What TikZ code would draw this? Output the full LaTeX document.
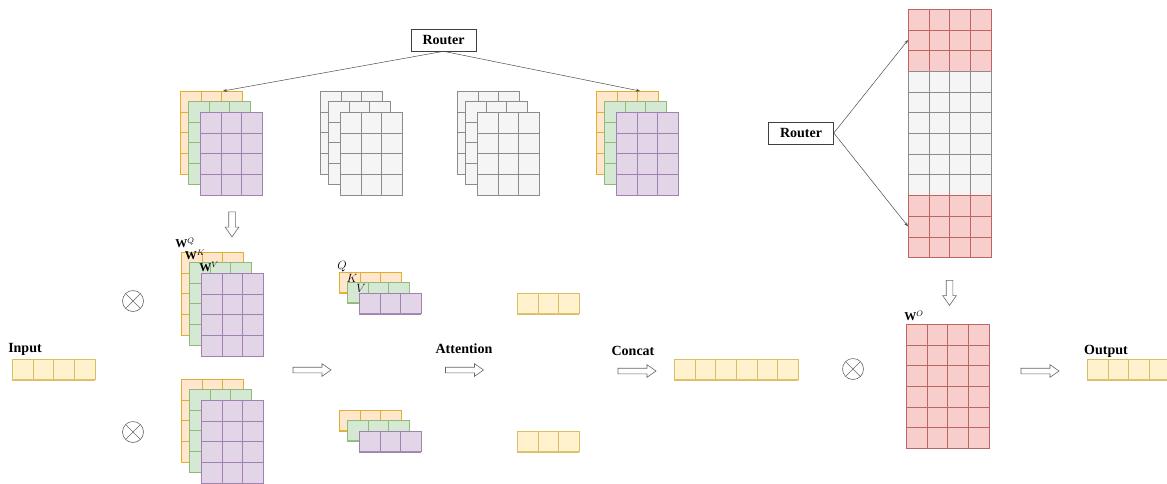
\documentclass[tikz,border=0pt]{standalone}
\usepackage{fontspec}
\setmainfont{Liberation Serif}
\usetikzlibrary{shapes.arrows,arrows.meta}

\definecolor{qfill}{HTML}{FFE6CC}\definecolor{qline}{HTML}{D79B00}
\definecolor{kfill}{HTML}{D5E8D4}\definecolor{kline}{HTML}{82B366}
\definecolor{vfill}{HTML}{E1D5E7}\definecolor{vline}{HTML}{9673A6}
\definecolor{gfill}{HTML}{F5F5F5}\definecolor{gline}{HTML}{666666}
\definecolor{rfill}{HTML}{F8CECC}\definecolor{rline}{HTML}{B85450}
\definecolor{yfill}{HTML}{FFF2CC}\definecolor{yline}{HTML}{D6B656}

\def\cw{20.7pt}

% one block of cells, top left corner at (#3,#4)
\newcommand{\cellmat}[6]{%
  \node[mat, #2, minimum width=#5*\cw, minimum height=#6*\cw] (#1) at (#3,#4) {};
  \foreach \c in {1,...,#5}
    \draw[#2] ([xshift=\c*\cw]#1.north west) -- ([xshift=\c*\cw]#1.south west);
  \foreach \r in {1,...,#6}
    \draw[#2] ([yshift=-\r*\cw]#1.north west) -- ([yshift=-\r*\cw]#1.north east);
}
% three blocks laid over each other
\newcommand{\wstack}[7]{%
  \cellmat{#1a}{#5}{#2}{#3}{3}{#4}
  \cellmat{#1b}{#6}{#2+8}{#3+10}{3}{#4}
  \cellmat{#1c}{#7}{#2+20}{#3+21}{3}{#4}
}

\begin{document}
\begin{tikzpicture}[x=1pt,y=-1pt,
			mat/.style={anchor=north west, inner sep=0pt, outer sep=0pt, line width=0.55pt},
			qm/.style={fill=qfill, draw=qline!80},
			km/.style={fill=kfill, draw=kline!90},
			vm/.style={fill=vfill, draw=vline!90},
			gm/.style={fill=gfill, draw=gline!75},
			rm/.style={fill=rfill, draw=rline!90},
			ym/.style={fill=yfill, draw=yline!90},
			lbl/.style={font=\fontsize{14}{16}\selectfont\bfseries, inner sep=0pt},
			mlbl/.style={font=\fontsize{12}{14}\selectfont, inner sep=0pt},
			router/.style={draw=black!75, fill=white, line width=0.6pt, minimum width=65pt, minimum height=22pt, inner sep=0pt, font=\fontsize{14}{16}\selectfont\bfseries},
			pick/.style={draw=black!70, line width=0.5pt, -{Stealth[length=4pt,width=3pt]}},
			hollow/.style={single arrow, draw=black!60, fill=white, line width=0.6pt, inner sep=0pt, text height=2.5pt, text depth=2.5pt, single arrow head extend=3.5pt, single arrow tip angle=70, minimum height=38pt},
			hollowdown/.style={hollow, text height=3pt, text depth=3pt, minimum height=25pt, rotate=-90},
			otimes/.style={circle, draw=black!60, line width=0.6pt, minimum size=21pt, inner sep=0pt,
				path picture={\draw[black!60, line width=0.6pt] (path picture bounding box.north west) -- (path picture bounding box.south east)
				(path picture bounding box.south west) -- (path picture bounding box.north east);}}
			]
	\useasboundingbox (0,0) rectangle (1167,483);

	% experts on top
	\wstack{ea}{180}{91}{4}{qm}{km}{vm}
	\wstack{eb}{320}{91}{4}{gm}{gm}{gm}
	\wstack{ec}{457}{91}{4}{gm}{gm}{gm}
	\wstack{ed}{596}{91}{4}{qm}{km}{vm}
	\node[router] (router1) at (443.5,40) {Router};
	\draw[pick] (router1.south) -- ([xshift=43pt]eaa.north west);
	\draw[pick] (router1.south) -- ([xshift=44pt]eda.north west);
	\node[hollowdown] (down1) at (232,222) {};

	% input and projections
	\node[lbl] (inlbl) at (25,349) {Input};
	\cellmat{input}{ym}{12}{359}{4}{1}
	\node[otimes] (mul1) at (133,301) {};
	\node[otimes] (mul2) at (133,432) {};
	\wstack{wt}{181}{252}{4}{qm}{km}{vm}
	\wstack{wb}{181}{379}{4}{qm}{km}{vm}
	\node[mlbl] (wq) at (185,243) {$\mathbf{W}^{Q}$};
	\node[mlbl] (wk) at (195,255) {$\mathbf{W}^{K}$};
	\node[mlbl] (wv) at (209,267) {$\mathbf{W}^{V}$};
	\node[hollow] (arr1) at (310,370) {};

	% queries, keys, values
	\wstack{qt}{339}{272}{1}{qm}{km}{vm}
	\wstack{qb}{339}{410}{1}{qm}{km}{vm}
	\node[mlbl] (qlbl) at (342,267) {$Q$};
	\node[mlbl] (klbl) at (352,278) {$K$};
	\node[mlbl] (vlbl) at (361,288) {$V$};
	\node[lbl] (attlbl) at (464,349) {Attention};
	\node[hollow] (arr2) at (462.5,370) {};
	\cellmat{headt}{ym}{517}{293}{3}{1}
	\cellmat{headb}{ym}{517}{431}{3}{1}

	% concat and output projection
	\node[lbl] (catlbl) at (633,351) {Concat};
	\node[hollow] (arr3) at (635,371) {};
	\cellmat{concat}{ym}{674}{359}{6}{1}
	\node[otimes] (mul3) at (853,369) {};
	\cellmat{wotop}{rm}{908}{9}{4}{3}
	\cellmat{womid}{gm}{908}{71.1}{4}{6}
	\cellmat{wobot}{rm}{908}{195.3}{4}{3}
	\node[router] (router2) at (801,133) {Router};
	\draw[pick] (router2.east) -- (wotop.west);
	\draw[pick] (router2.east) -- (wobot.west);
	\node[hollowdown] (down2) at (949.5,290.5) {};
	\node[mlbl] (wo) at (914,316) {$\mathbf{W}^{O}$};
	\cellmat{wout}{rm}{906}{324}{4}{6}
	\node[hollow] (arr4) at (1038,371) {};
	\node[lbl] (outlbl) at (1106,351) {Output};
	\cellmat{output}{ym}{1087}{359}{4}{1}
\end{tikzpicture}
\end{document}
